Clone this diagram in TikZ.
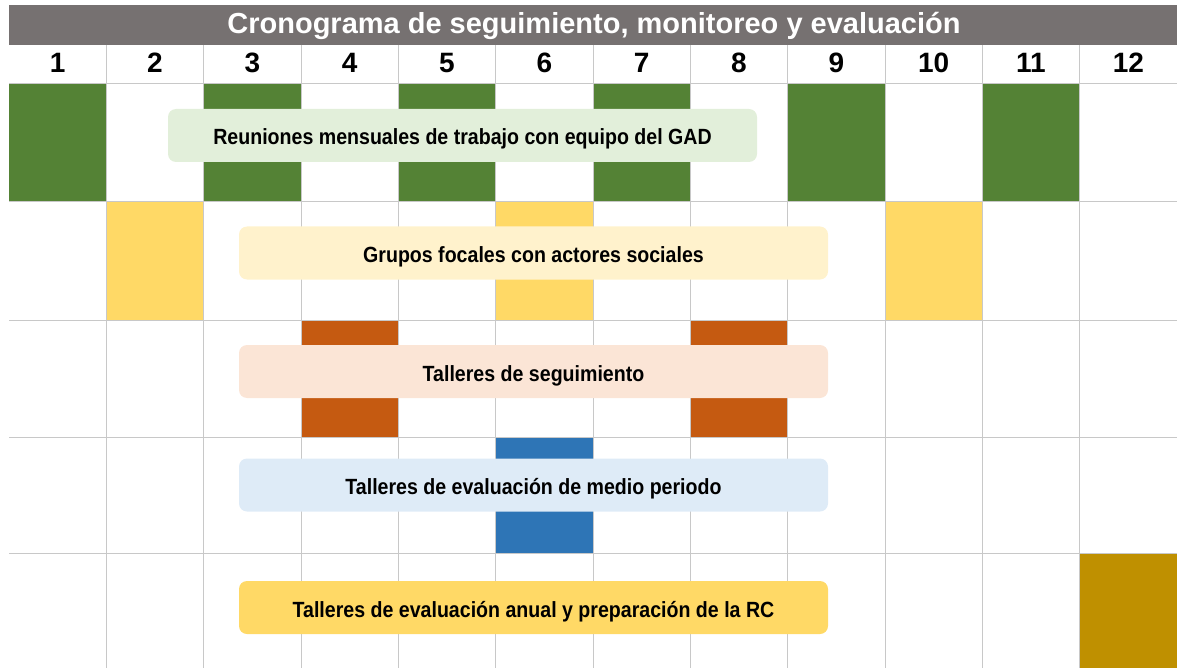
\documentclass[tikz,border=0pt]{standalone}
\usepackage{fontspec}
\setmainfont{Liberation Sans}
\newfontfamily\narrowfont[FakeStretch=0.89]{Liberation Sans}
\usetikzlibrary{positioning}

\definecolor{titlegray}{HTML}{767171}
\definecolor{gridgray}{HTML}{C8C8C8}
\definecolor{mgreen}{HTML}{548235}
\definecolor{myellow}{HTML}{FFD966}
\definecolor{morange}{HTML}{C55A11}
\definecolor{mblue}{HTML}{2E75B6}
\definecolor{mgold}{HTML}{BF9000}
\definecolor{lgreen}{HTML}{E2EFDA}
\definecolor{lyellow}{HTML}{FFF2CC}
\definecolor{lorange}{HTML}{FBE5D6}
\definecolor{lblue}{HTML}{DEEBF7}

\begin{document}
\begin{tikzpicture}[x=1pt, y=-1pt]
  \tikzstyle{cell}=[inner sep=0pt, minimum width=97.33pt, minimum height=118pt]
  \tikzstyle{month}=[anchor=base, inner sep=0pt, font=\bfseries\fontsize{28}{28}\selectfont]
  \tikzstyle{activity}=[rounded corners=8pt, inner sep=0pt, minimum width=589pt,
  minimum height=53pt, text height=19pt, text depth=0pt,
  font=\narrowfont\bfseries\fontsize{22}{22}\selectfont]
  \tikzstyle{gridline}=[draw=gridgray, line width=1pt]

  \useasboundingbox (0,0) rectangle (1177,668);

  \node (titlebar) at (593,25) [fill=titlegray, minimum width=1168pt, minimum height=40pt,
  inner sep=0pt] {};
  \node (title) at (594,34) [anchor=base, inner sep=0pt, text=white,
  font=\bfseries\fontsize{29}{29}\selectfont]
  {Cronograma de seguimiento, monitoreo y evaluación};

  \node (m1) at (57.67,73) [month] {1};
  \node (m2) at (155,73) [month] {2};
  \node (m3) at (252.33,73) [month] {3};
  \node (m4) at (349.67,73) [month] {4};
  \node (m5) at (447,73) [month] {5};
  \node (m6) at (544.33,73) [month] {6};
  \node (m7) at (641.67,73) [month] {7};
  \node (m8) at (739,73) [month] {8};
  \node (m9) at (836.33,73) [month] {9};
  \node (m10) at (933.67,73) [month] {10};
  \node (m11) at (1031,73) [month] {11};
  \node (m12) at (1128.33,73) [month] {12};

  % reuniones
  \node (reu1) at (57.67,143) [cell, fill=mgreen] {};
  \node (reu3) at (252.33,143) [cell, fill=mgreen] {};
  \node (reu5) at (447,143) [cell, fill=mgreen] {};
  \node (reu7) at (641.67,143) [cell, fill=mgreen] {};
  \node (reu9) at (836.33,143) [cell, fill=mgreen] {};
  \node (reu11) at (1031,143) [cell, fill=mgreen] {};

  % grupos focales
  \node (gru2) at (155,261) [cell, fill=myellow] {};
  \node (gru6) at (544.33,261) [cell, fill=myellow] {};
  \node (gru10) at (933.67,261) [cell, fill=myellow] {};

  % talleres
  \node (seg4) at (349.67,378.5) [cell, fill=morange] {};
  \node (seg8) at (739,378.5) [cell, fill=morange] {};
  \node (med6) at (544.33,495) [cell, fill=mblue, minimum height=116pt] {};
  \node (anu12) at (1128.33,610.5) [cell, fill=mgold, minimum height=115pt] {};

  \draw[gridline] (9,84) -- (1177,84) (9,202) -- (1177,202) (9,320) -- (1177,320)
  (9,437) -- (1177,437) (9,553) -- (1177,553);
  \draw[gridline] (106.33,45) -- (106.33,668) (203.67,45) -- (203.67,668)
  (301,45) -- (301,668) (398.33,45) -- (398.33,668) (495.67,45) -- (495.67,668)
  (593,45) -- (593,668) (690.33,45) -- (690.33,668) (787.67,45) -- (787.67,668)
  (885,45) -- (885,668) (982.33,45) -- (982.33,668) (1079.67,45) -- (1079.67,668);

  \node (reuniones) at (462.5,135.5) [activity, fill=lgreen]
  {Reuniones mensuales de trabajo con equipo del GAD};
  \node (grupos) at (533.5,253) [activity, fill=lyellow]
  {Grupos focales con actores sociales};
  \node (seguimiento) at (533.5,371.5) [activity, fill=lorange]
  {Talleres de seguimiento};
  \node (medio) at (533.5,485) [activity, fill=lblue]
  {Talleres de evaluación de medio periodo};
  \node (anual) at (533.5,607.5) [activity, fill=myellow]
  {Talleres de evaluación anual y preparación de la RC};

\end{tikzpicture}
\end{document}
